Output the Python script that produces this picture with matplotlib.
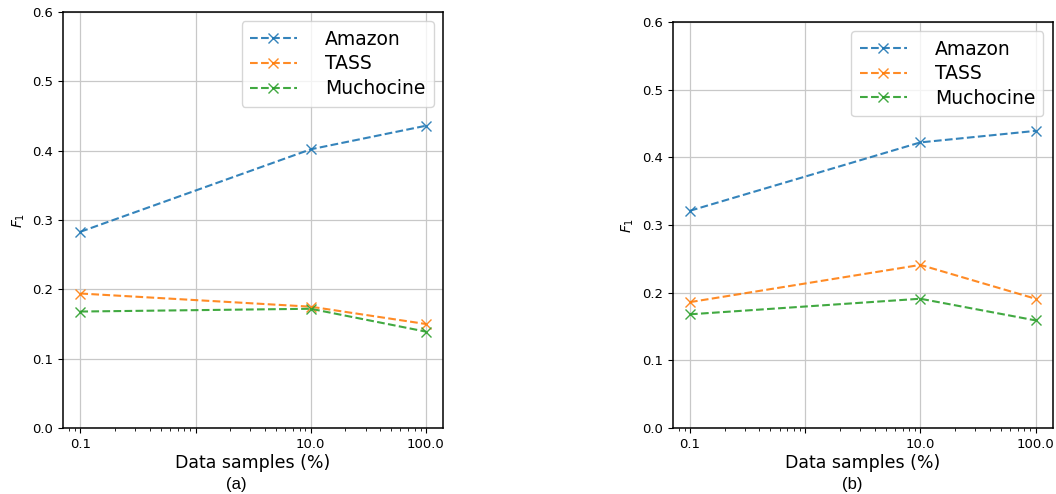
import matplotlib
matplotlib.use('Agg')
import matplotlib.pyplot as plt

samples = [0.1, 10.0, 100.0]
series_names = ['Amazon', 'TASS', 'Muchocine']

# panel (a)
amazon_a = [0.283, 0.402, 0.436]
tass_a = [0.194, 0.175, 0.150]
mucho_a = [0.168, 0.172, 0.139]

# panel (b)
amazon_b = [0.321, 0.422, 0.439]
tass_b = [0.186, 0.241, 0.191]
mucho_b = [0.168, 0.191, 0.159]

xticks = [0.1, 1.0, 10.0, 100.0]
xtick_labels = ['0.1', '', '10.0', '100.0']
yticks = [0.0, 0.1, 0.2, 0.3, 0.4, 0.5, 0.6]

fig = plt.figure(figsize=(10.56, 4.94), dpi=100)
ax_a = fig.add_axes([0.0597, 0.1336, 0.360, 0.842])
ax_b = fig.add_axes([0.637, 0.1336, 0.360, 0.822])


def draw(ax, vals, caption, cx):
    for name, v in zip(series_names, vals):
        ax.plot(samples, v, '--x', label=name, lw=1.5, ms=6.5, alpha=0.9)
    ax.set_xscale('log')
    ax.set_xticks(xticks)
    ax.set_xticklabels(xtick_labels)
    ax.set_ylim(0.0, 0.6)
    ax.set_yticks(yticks)
    ax.tick_params(labelsize=9.5)
    for s in ax.spines.values():
        s.set_linewidth(1.1)
    ax.grid(True, which='major', color='#c8c8c8', lw=0.9)
    ax.set_xlabel('Data samples (%)', fontsize=12.5, labelpad=2)
    ax.set_ylabel('$F_1$', fontsize=10)
    ax.legend(loc='upper right', fontsize=13.5, handlelength=2.5,
              handletextpad=1.5, borderpad=0.45, labelspacing=0.3)
    fig.text(cx, 0.004, caption, ha='center', va='bottom', fontsize=12,
             family='Liberation Sans')


draw(ax_a, [amazon_a, tass_a, mucho_a], '(a)', 0.224)
draw(ax_b, [amazon_b, tass_b, mucho_b], '(b)', 0.807)

plt.savefig('out.png', dpi=100)
